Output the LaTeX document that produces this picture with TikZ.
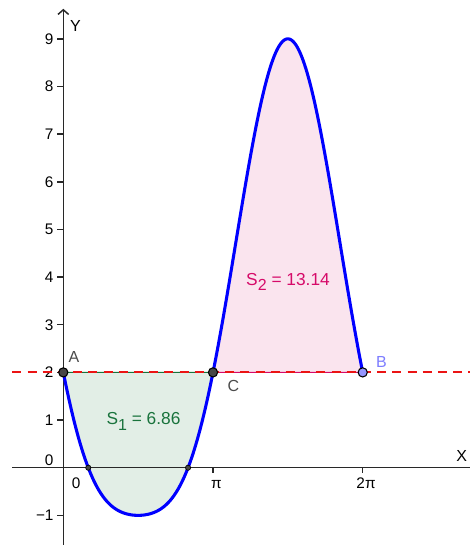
\documentclass[tikz,border=0pt]{standalone}
\usepackage{fontspec}
\setmainfont{Liberation Sans}
\usetikzlibrary{arrows.meta}
\definecolor{axisc}{RGB}{40,40,40}
\definecolor{s1fill}{RGB}{226,238,230}
\definecolor{s1col}{RGB}{25,115,60}
\definecolor{s2fill}{RGB}{250,228,238}
\definecolor{s2col}{RGB}{214,10,105}
\definecolor{curvec}{RGB}{0,0,255}
\definecolor{dashc}{RGB}{235,20,20}
\definecolor{ptgray}{RGB}{70,70,70}
\definecolor{ptblue}{RGB}{150,150,255}
\definecolor{labgray}{RGB}{75,75,75}
\definecolor{labblue}{RGB}{125,125,255}
\tikzset{
  axisline/.style={axisc, line width=1.1pt},
  ticklab/.style={font=\fontsize{11.5}{13}\selectfont, text=black, inner sep=0pt},
  axislab/.style={font=\fontsize{12}{14}\selectfont, text=black, inner sep=0pt},
  ptlab/.style={font=\fontsize{12}{14}\selectfont, inner sep=0pt},
  arealab/.style={font=\fontsize{13}{15}\selectfont, inner sep=0pt, anchor=base},
  bigpt/.style={circle, draw=black, line width=0.8pt, inner sep=0pt, minimum size=6.9pt},
  smallpt/.style={circle, draw=black, fill=ptgray, line width=0.5pt, inner sep=0pt, minimum size=3.9pt},
}
\newcommand{\mysub}[1]{\raisebox{-3.8pt}{\fontsize{12}{14}\selectfont #1}}
\begin{document}
\begin{tikzpicture}[x=35.7375pt,y=35.7375pt,
  declare function={f(\t)=2-5*sin(\t r)+2*sin(\t r)*sin(\t r);}]
\useasboundingbox (-1.3284,-1.622) rectangle (8.514,9.815);
% areas
\fill[s1fill] (0,2) -- plot[domain=0:pi, samples=120] (\x,{f(\x)}) -- cycle;
\fill[s2fill] (pi,2) -- plot[domain=pi:2*pi, samples=120] (\x,{f(\x)}) -- cycle;
% axes
\draw[axisline] (-1.07,0) -- (8.6,0);
\draw[axisline, -{Straight Barb[length=3.5pt,width=8pt,line width=1.1pt]}] (0,-1.8) -- (0,9.63);
\foreach \k in {-1,...,9} \draw[axisline] (-0.126,\k) -- (0,\k);
\draw[axisline] (pi,0) -- (pi,-0.105);
\draw[axisline] (2*pi,0) -- (2*pi,-0.105);
% tick labels
\foreach \k in {1,...,9} \node[ticklab, anchor=east] (yl\k) at (-0.2,\k) {\k};
\node[ticklab, anchor=east] (yl0) at (-0.2,0.162) {0};
\node[ticklab, anchor=east] (ylm) at (-0.2,-1) {−1};
\node[ticklab, anchor=base] (xl0) at (0.267,-0.43) {0};
\node[ticklab, anchor=base] (xlpi) at (3.215,-0.43) {π};
\node[ticklab, anchor=base] (xl2pi) at (6.353,-0.43) {2π};
\node[axislab] (xlab) at (8.36,0.245) {X};
\node[axislab] (ylab) at (0.256,9.27) {Y};
% area borders
\draw[s1col, line width=0.8pt] (0,2) -- plot[domain=0:pi, samples=120] (\x,{f(\x)}) -- cycle;
\draw[s2col, line width=0.8pt] (pi,2) -- plot[domain=pi:2*pi, samples=120] (\x,{f(\x)}) -- cycle;
% dashed line
\draw[dashc, line width=1.5pt, dash pattern=on 6.8pt off 4.6pt] (-1.07,2) -- (8.6,2);
% curve
\draw[curvec, line width=2.3pt, line join=round] plot[domain=0:2*pi, samples=300] (\x,{f(\x)});
% points
\node[smallpt] (Z1) at ({pi/6},0) {};
\node[smallpt] (Z2) at ({5*pi/6},0) {};
\node[bigpt, fill=ptgray] (A) at (0,2) {};
\node[bigpt, fill=ptgray] (C) at (pi,2) {};
\node[bigpt, fill=ptblue] (B) at (2*pi,2) {};
% point labels
\node[ptlab, text=labgray] (Alab) at (0.222,2.325) {A};
\node[ptlab, text=labgray] (Clab) at (3.572,1.715) {C};
\node[ptlab, text=labblue] (Blab) at (6.678,2.22) {B};
% area labels
\node[arealab, text=s1col] (S1) at (1.683,0.897) {S\mysub{1} = 6.86};
\node[arealab, text=s2col] (S2) at (4.716,3.834) {S\mysub{2} = 13.14};
\end{tikzpicture}
\end{document}
